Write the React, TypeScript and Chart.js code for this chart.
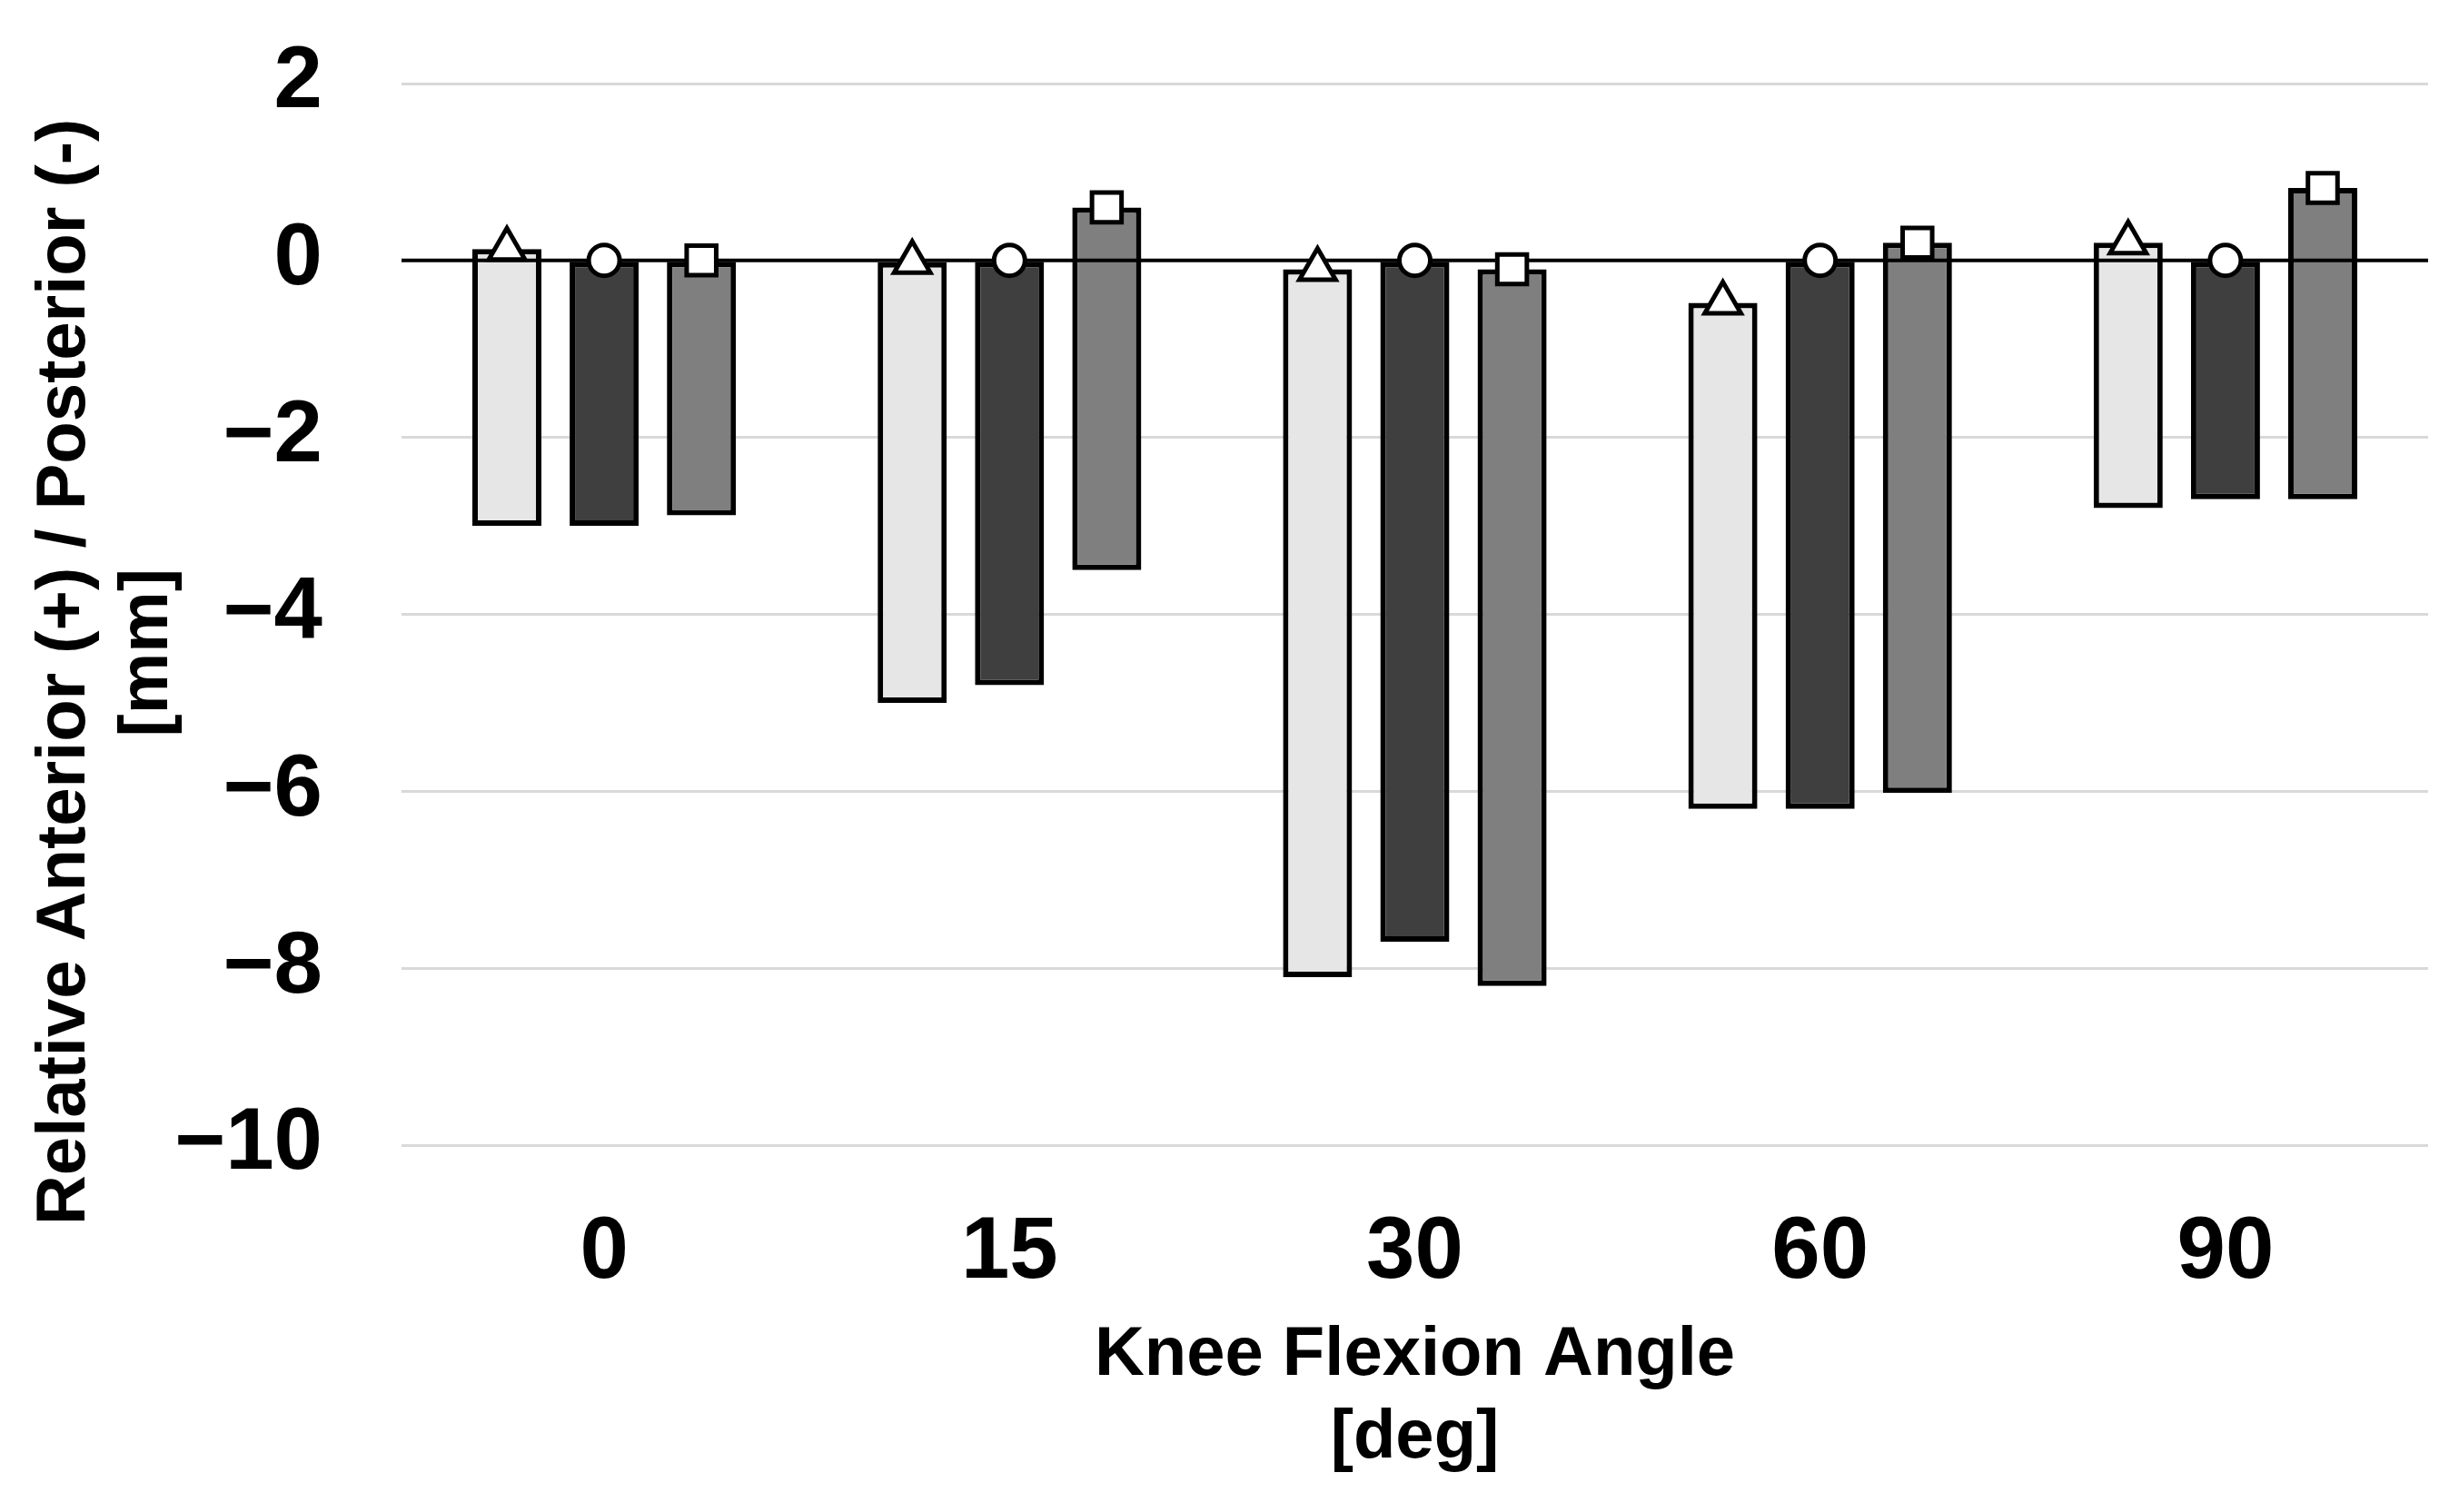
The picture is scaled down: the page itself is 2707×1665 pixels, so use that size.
import React, { useEffect, useRef } from 'react';
import { Chart, registerables } from 'chart.js';

Chart.register(...registerables);

// Knee flexion angle categories
const categories = ['0', '15', '30', '60', '90'];

// Floating bar ranges (low / high) for the three series, in mm
const lightLow = [-3.0, -5.0, -8.1, -6.2, -2.8];
const lightHigh = [0.13, -0.02, -0.1, -0.48, 0.2];
const darkLow = [-3.0, -4.8, -7.7, -6.2, -2.7];
const darkHigh = [0, 0, 0, 0, 0];
const medLow = [-2.88, -3.5, -8.2, -6.02, -2.7];
const medHigh = [0, 0.6, -0.1, 0.2, 0.82];

// Axis range
const Y_MIN = -10;
const Y_MAX = 2;
const Y_STEP = 2;

// Fraction of each category occupied by the group of three bars
const GROUP_PCT = 0.72;
const BAR_PCT = 0.71;

const FONT = "'Liberation Sans', Arial, sans-serif";

export default function App() {
  const ref = useRef<HTMLCanvasElement>(null);

  useEffect(() => {
    const canvas = ref.current;
    if (!canvas) return;

    const seriesCount = 3;
    const slot = GROUP_PCT / seriesCount;
    const xOf = (i: number, k: number) => i + (k - (seriesCount - 1) / 2) * slot;
    const rangeData = (lo: number[], hi: number[], k: number) =>
      lo.map((l, i) => ({ x: xOf(i, k), y: [l, hi[i]] }));
    const pointData = (vals: number[], k: number) => vals.map((v, i) => ({ x: xOf(i, k), y: v }));

    const barCommon = {
      type: 'bar' as const,
      borderColor: '#000000',
      borderWidth: 6,
      borderSkipped: false as const,
      grouped: false,
      categoryPercentage: 1,
      barPercentage: BAR_PCT,
    };
    const markerCommon = {
      type: 'line' as const,
      showLine: false,
      pointBackgroundColor: '#ffffff',
      pointBorderColor: '#000000',
      pointBorderWidth: 5,
      order: 1,
    };

    const chart = new Chart(canvas, {
      type: 'bar',
      data: {
        datasets: [
          { ...barCommon, label: 'Series 1', data: rangeData(lightLow, lightHigh, 0), backgroundColor: '#e6e6e6', order: 10 },
          { ...barCommon, label: 'Series 2', data: rangeData(darkLow, darkHigh, 1), backgroundColor: '#3f3f3f', order: 11 },
          { ...barCommon, label: 'Series 3', data: rangeData(medLow, medHigh, 2), backgroundColor: '#7f7f7f', order: 12 },
          {
            type: 'line',
            label: 'zero',
            data: [
              { x: -0.5, y: 0 },
              { x: categories.length - 0.5, y: 0 },
            ],
            borderColor: '#000000',
            borderWidth: 4,
            pointRadius: 0,
            order: 5,
          },
          { ...markerCommon, label: 'Series 1 mean', data: pointData(lightHigh, 0), pointStyle: 'triangle', pointRadius: 23 },
          { ...markerCommon, label: 'Series 2 mean', data: pointData(darkHigh, 1), pointStyle: 'circle', pointRadius: 17 },
          { ...markerCommon, label: 'Series 3 mean', data: pointData(medHigh, 2), pointStyle: 'rect', pointRadius: 23 },
        ] as any,
      },
      options: {
        animation: false,
        responsive: false,
        devicePixelRatio: 1,
        layout: { padding: { top: 92, right: 34, bottom: 0, left: 0 } },
        plugins: {
          legend: { display: false },
          tooltip: { enabled: false },
        },
        scales: {
          x: {
            type: 'linear',
            min: -0.5,
            max: categories.length - 0.5,
            offset: false,
            grid: { display: false, offset: false },
            border: { display: false },
            afterBuildTicks: (s: any) => {
              s.ticks = categories.map((_, i) => ({ value: i }));
            },
            ticks: {
              color: '#000000',
              font: { family: FONT, size: 96, weight: 'bold' },
              padding: 54,
              maxRotation: 0,
              autoSkip: false,
              callback: (v: any) => categories[Math.round(Number(v))] ?? '',
            },
            title: {
              display: true,
              text: ['Knee Flexion Angle', '[deg]'],
              color: '#000000',
              font: { family: FONT, size: 76, weight: 'bold', lineHeight: 1.2 },
              padding: { top: 0, bottom: 35 },
            },
            afterFit: (s: any) => {
              s.height = 404;
              s.paddingLeft = 0;
              s.paddingRight = 0;
            },
          },
          y: {
            min: Y_MIN,
            max: Y_MAX,
            beginAtZero: false,
            border: { display: false },
            grid: {
              color: (c: any) => (c.tick && c.tick.value === 0 ? 'rgba(0,0,0,0)' : '#d9d9d9'),
              lineWidth: 3,
              drawTicks: false,
            },
            ticks: {
              stepSize: Y_STEP,
              color: '#000000',
              font: { family: FONT, size: 96, weight: 'bold' },
              padding: 87,
              callback: (v: any) => (Number(v) < 0 ? '\u2212' + Math.abs(Number(v)) : String(v)),
            },
            title: {
              display: true,
              text: ['Relative Anterior (+) / Posterior (-)      ', '[mm]    '],
              color: '#000000',
              font: { family: FONT, size: 76, weight: 'bold', lineHeight: 1.2 },
              padding: { top: 26, bottom: 0 },
            },
            afterFit: (s: any) => {
              s.width = 442;
              s.paddingTop = 0;
              s.paddingBottom = 0;
            },
          },
        },
      } as any,
    });

    return () => chart.destroy();
  }, []);

  return (
    <div style={{ position: 'absolute', left: 0, top: 0, width: 2707, height: 1665, background: '#ffffff' }}>
      <canvas ref={ref} width={2707} height={1665} style={{ display: 'block' }} />
    </div>
  );
}
